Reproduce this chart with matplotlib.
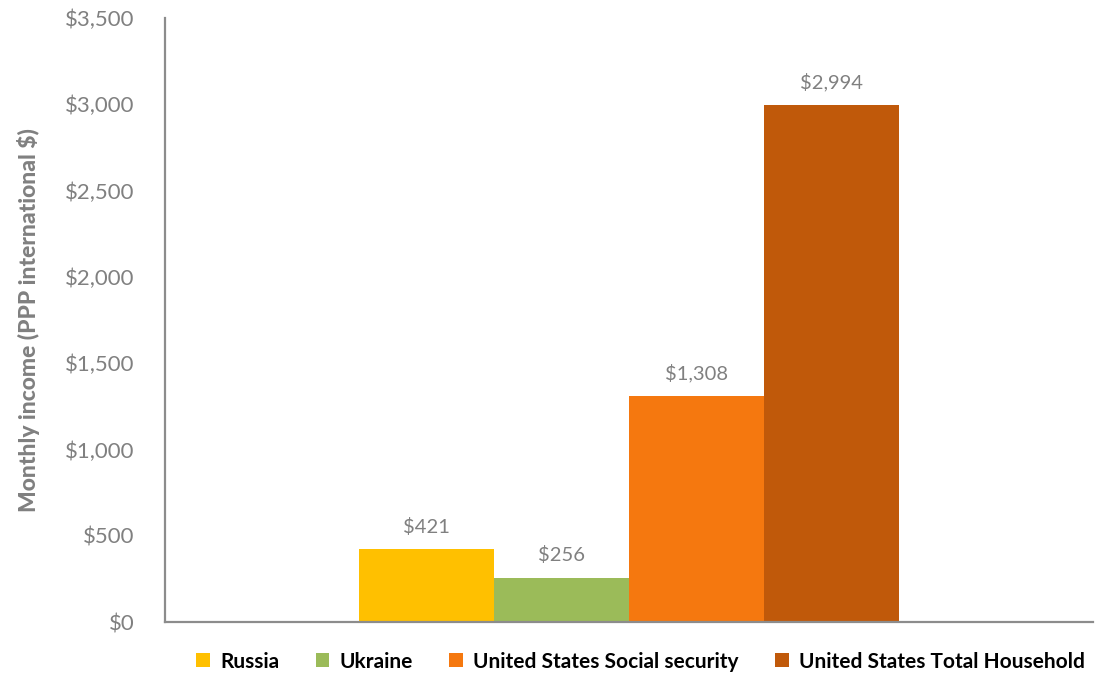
import numpy as np
import matplotlib.pyplot as plt
from matplotlib.patches import Patch
from matplotlib.ticker import FuncFormatter

plt.rcParams['font.family'] = ['Lato', 'DejaVu Sans']

series = ["Russia", "Ukraine", "United States Social security", "United States Total Household"]
income = [421, 256, 1308, 2994]
colors = ["#FFC000", "#9BBB59", "#F5780F", "#C0590A"]

gray = "#808080"

fig = plt.figure(figsize=(10.95, 6.75), dpi=100)
ax = fig.add_axes([0.151, 0.0785, 0.847, 0.895])

width = 0.1455
offsets = (np.arange(len(series)) - (len(series) - 1) / 2) * width
bars = ax.bar(offsets, income, width=width, color=colors)

for b, v in zip(bars, income):
    ax.text(b.get_x() + b.get_width() / 2, v + 80, "${:,}".format(v),
            ha="center", va="bottom", color=gray, fontsize=14.5)

ax.set_xlim(-0.5, 0.5)
ax.set_ylim(0, 3500)
ax.set_yticks(np.arange(0, 3501, 500))
ax.yaxis.set_major_formatter(FuncFormatter(lambda y, _: "${:,.0f}".format(y)))
ax.set_xticks([])
ax.tick_params(axis="y", length=0, pad=22, labelsize=16, labelcolor=gray)

for s in ["top", "right"]:
    ax.spines[s].set_visible(False)
for s in ["left", "bottom"]:
    ax.spines[s].set_color("#8c8c8c")
    ax.spines[s].set_linewidth(1.6)

ax.set_ylabel("Monthly income (PPP international $)", color=gray,
              fontsize=16.5, fontweight="black", labelpad=18)

handles = [Patch(facecolor=c) for c in colors]
fig.legend(handles, series, loc="center", bbox_to_anchor=(0.585, 0.02),
           ncol=4, frameon=False, handlelength=0.65, handleheight=0.65,
           handletextpad=0.5, columnspacing=1.75,
           prop={"size": 15, "weight": "bold"})

fig.savefig("out.png", dpi=100)
